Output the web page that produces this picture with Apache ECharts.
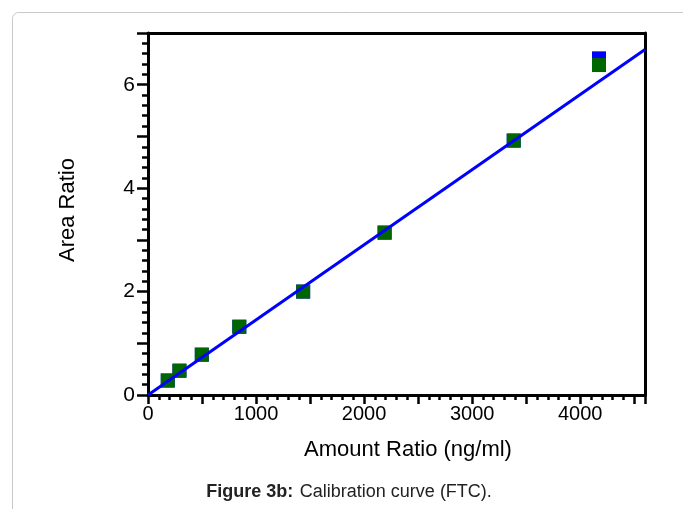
<!DOCTYPE html>
<html>
<head>
<meta charset="utf-8">
<script src="https://cdn.jsdelivr.net/npm/echarts@6/dist/echarts.min.js"></script>
<style>
html,body{margin:0;padding:0;background:#fff;}
#c{width:683px;height:509px;}
</style>
</head>
<body>
<div id="c"></div>
<script>
// Data
var amountRatio = [183, 291, 498, 845, 1436, 2190, 3385, 4174];
var areaRatioRep1 = [0.28, 0.47, 0.78, 1.32, 2.00, 3.14, 4.92, 6.51]; // blue squares (mostly hidden)
var areaRatioRep2 = [0.28, 0.47, 0.78, 1.32, 2.00, 3.14, 4.92, 6.38]; // green squares
var fitX = [0, 4600];
var fitY = [0, 6.68];
var xTickLabels = [0, 1000, 2000, 3000, 4000];
var yTickLabels = [0, 2, 4, 6];

function pairs(xs, ys){ var o=[]; for(var i=0;i<xs.length;i++) o.push([xs[i], ys[i]]); return o; }

var FONT = "'Liberation Sans', Arial, sans-serif";
var chart = echarts.init(document.getElementById('c'), null, {renderer:'canvas'});
chart.setOption({
  animation:false,
  backgroundColor:'#fff',
  grid:{left:148, right:38, top:33, bottom:114, containLabel:false},
  graphic:[
    {type:'rect', shape:{x:12.5, y:12.5, width:700, height:520, r:6}, style:{fill:'none', stroke:'#c8c8c8', lineWidth:1}, z:-10},
    {type:'text', x:68, y:210, rotation:Math.PI/2, style:{text:'Area Ratio', font:'22px '+FONT, fill:'#000', textAlign:'center', textVerticalAlign:'middle'}},
    {type:'text', x:408, y:450, style:{text:'Amount Ratio (ng/ml)', font:'22px '+FONT, fill:'#000', textAlign:'center', textVerticalAlign:'middle'}},
    {type:'text', x:349, y:492, style:{
      text:'{b|Figure 3b:}  {n|Calibration curve (FTC).}',
      rich:{b:{font:'bold 18px '+FONT, fill:'#222'}, n:{font:'18px '+FONT, fill:'#222'}},
      textAlign:'center', textVerticalAlign:'middle'}}
  ],
  xAxis:[{
    type:'value', min:0, max:4600, interval:500, position:'bottom',
    axisLine:{show:true, onZero:false, lineStyle:{color:'#000', width:3}},
    axisTick:{show:true, length:9, lineStyle:{color:'#000', width:2.5}},
    minorTick:{show:true, splitNumber:5, length:5, lineStyle:{color:'#000', width:2.5}},
    splitLine:{show:false},
    axisLabel:{margin:9, color:'#000', fontSize:20, fontFamily:FONT,
      formatter:function(v){ return xTickLabels.indexOf(v) >= 0 ? String(v) : ''; }}
  },{
    type:'value', min:0, max:4600, position:'top',
    axisLine:{show:true, onZero:false, lineStyle:{color:'#000', width:3}},
    axisTick:{show:false}, axisLabel:{show:false}, splitLine:{show:false}
  }],
  yAxis:[{
    type:'value', min:0, max:7, interval:1, position:'left',
    axisLine:{show:true, onZero:false, lineStyle:{color:'#000', width:3}},
    axisTick:{show:true, length:11, lineStyle:{color:'#000', width:2.5}},
    minorTick:{show:true, splitNumber:5, length:6, lineStyle:{color:'#000', width:2.5}},
    splitLine:{show:false},
    axisLabel:{margin:13, color:'#000', fontSize:21, fontFamily:FONT,
      formatter:function(v){ return yTickLabels.indexOf(v) >= 0 ? String(v) : ''; }}
  },{
    type:'value', min:0, max:7, position:'right',
    axisLine:{show:true, onZero:false, lineStyle:{color:'#000', width:3}},
    axisTick:{show:false}, axisLabel:{show:false}, splitLine:{show:false}
  }],
  series:[
    {type:'scatter', symbol:'rect', symbolSize:14, itemStyle:{color:'#0000ff', opacity:1}, data:pairs(amountRatio, areaRatioRep1), z:2},
    {type:'scatter', symbol:'rect', symbolSize:14, itemStyle:{color:'#006600', opacity:1}, data:pairs(amountRatio, areaRatioRep2), z:3},
    {type:'line', showSymbol:false, symbol:'none', lineStyle:{color:'#0000ff', width:3}, data:pairs(fitX, fitY), z:4, clip:true}
  ]
});
</script>
</body>
</html>
